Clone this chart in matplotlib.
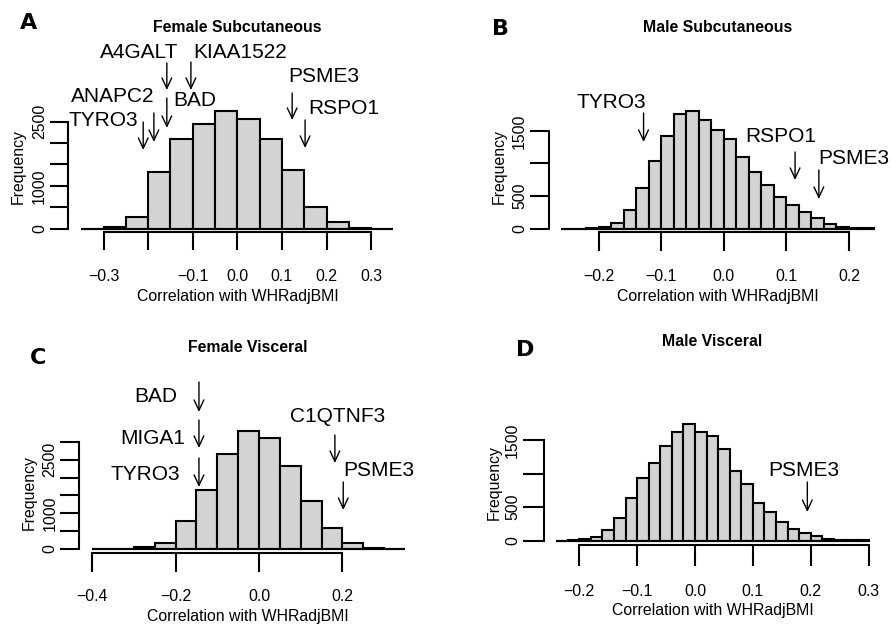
import numpy as np
import matplotlib
matplotlib.use("Agg")
import matplotlib.pyplot as plt
from matplotlib import transforms

plt.rcParams['font.family'] = ['Liberation Sans', 'DejaVu Sans']

W, H = 891, 626

# ---- data ----
# A: female subcutaneous (bin edges, counts)
fs_edges = [-0.35, -0.30, -0.25, -0.20, -0.15, -0.10, -0.05, 0.00,
            0.05, 0.10, 0.15, 0.20, 0.25, 0.30, 0.35]
fs_counts = [3, 30, 265, 1316, 2087, 2438, 2749, 2562, 2087, 1371, 514, 156, 25, 3]
fs_genes = ['TYRO3', 'ANAPC2', 'A4GALT', 'BAD', 'KIAA1522', 'PSME3', 'RSPO1']
fs_gene_r = [-0.211, -0.187, -0.158, -0.158, -0.104, 0.123, 0.152]

# B: male subcutaneous
ms_edges = [-0.26, -0.24, -0.22, -0.20, -0.18, -0.16, -0.14, -0.12, -0.10,
            -0.08, -0.06, -0.04, -0.02, 0.00, 0.02, 0.04, 0.06, 0.08, 0.10,
            0.12, 0.14, 0.16, 0.18, 0.20, 0.22, 0.24]
ms_counts = [1, 3, 8, 30, 92, 287, 619, 1039, 1428, 1755, 1812, 1668, 1515,
             1372, 1095, 865, 670, 481, 363, 261, 159, 72, 20, 10, 4]
ms_genes = ['TYRO3', 'RSPO1', 'PSME3']
ms_gene_r = [-0.128, 0.114, 0.152]

# C: female visceral
fv_edges = [-0.40, -0.35, -0.30, -0.25, -0.20, -0.15, -0.10, -0.05, 0.00,
            0.05, 0.10, 0.15, 0.20, 0.25, 0.30, 0.35]
fv_counts = [2, 5, 47, 168, 776, 1650, 2654, 3299, 3112, 2327, 1336, 570, 168, 28, 3]
fv_genes = ['BAD', 'MIGA1', 'TYRO3', 'C1QTNF3', 'PSME3']
fv_gene_r = [-0.144, -0.144, -0.144, 0.182, 0.202]

# D: male visceral
mv_edges = [-0.24, -0.22, -0.20, -0.18, -0.16, -0.14, -0.12, -0.10, -0.08,
            -0.06, -0.04, -0.02, 0.00, 0.02, 0.04, 0.06, 0.08, 0.10, 0.12,
            0.14, 0.16, 0.18, 0.20, 0.22, 0.24, 0.26, 0.28, 0.30]
mv_counts = [2, 10, 25, 55, 159, 333, 640, 929, 1157, 1410, 1624, 1738, 1624,
             1564, 1360, 1038, 839, 566, 432, 273, 174, 114, 65, 30, 15, 8, 4]
mv_genes = ['PSME3']
mv_gene_r = [0.194]

# ---- layout (pixels in the 891x626 canvas) ----
panels = [
    dict(edges=fs_edges, counts=fs_counts, genes=fs_genes, gene_r=fs_gene_r,
         title='Female Subcutaneous', letter='A', letter_xy=(29, 23),
         xticks=[-0.3, -0.2, -0.1, 0.0, 0.1, 0.2, 0.3],
         xlabels=['\u22120.3', '', '\u22120.1', '0.0', '0.1', '0.2', '0.3'],
         yticks=[0, 500, 1000, 1500, 2000, 2500], ylabeled=[0, 1000, 2500],
         x0=237.3, ppu=446, y0=228.7, ppc=21.4 / 500, yaxis=68, xaxis=232.3,
         right=400, top=40, tick=18, cx=237.5, title_y=28, ticklab_y=277.7,
         xlab_y=296.7, freq_y=167,
         arrows=[(122, 150, 138, 120, 'right'), (113, 142, 154, 97, 'right'),
                 (63, 90, 139, 52, 'center'), (98, 128, 173, 101, 'left'),
                 (62, 90, 193, 52, 'left'), (93, 120, 288, 77, 'left'),
                 (120, 148, 308, 109, 'left')]),
    dict(edges=ms_edges, counts=ms_counts, genes=ms_genes, gene_r=ms_gene_r,
         title='Male Subcutaneous', letter='B', letter_xy=(500, 29),
         xticks=[-0.2, -0.1, 0.0, 0.1, 0.2],
         xlabels=['\u22120.2', '\u22120.1', '0.0', '0.1', '0.2'],
         yticks=[0, 500, 1000, 1500], ylabeled=[0, 500, 1500],
         x0=723.7, ppu=626, y0=228.7, ppc=32.6 / 500, yaxis=549, xaxis=232.3,
         right=885, top=40, tick=19, cx=717.5, title_y=28, ticklab_y=278,
         xlab_y=297, freq_y=167,
         arrows=[(113, 142, 611.7, 103, 'center'), (152, 180, 780.7, 137, 'center'),
                 (170, 199, 818, 159, 'left')]),
    dict(edges=fv_edges, counts=fv_counts, genes=fv_genes, gene_r=fv_gene_r,
         title='Female Visceral', letter='C', letter_xy=(38, 357.5),
         xticks=[-0.4, -0.2, 0.0, 0.2],
         xlabels=['\u22120.4', '\u22120.2', '0.0', '0.2'],
         yticks=[0, 500, 1000, 1500, 2000, 2500, 3000], ylabeled=[0, 1000, 2500],
         x0=259, ppu=417, y0=548.7, ppc=17.8 / 500, yaxis=79.3, xaxis=553.3,
         right=420, top=360, tick=19, cx=248, title_y=348, ticklab_y=598,
         xlab_y=616, freq_y=492,
         arrows=[(382, 412, 177, 396, 'right'), (420, 448, 185, 438, 'right'),
                 (458, 487, 180, 475, 'right'), (435, 463, 338, 417, 'center'),
                 (482, 510, 343, 470, 'left')]),
    dict(edges=mv_edges, counts=mv_counts, genes=mv_genes, gene_r=mv_gene_r,
         title='Male Visceral', letter='D', letter_xy=(525, 350),
         xticks=[-0.2, -0.1, 0.0, 0.1, 0.2, 0.3],
         xlabels=['\u22120.2', '\u22120.1', '0.0', '0.1', '0.2', '0.3'],
         yticks=[0, 500, 1000, 1500], ylabeled=[0, 500, 1500],
         x0=695, ppu=579, y0=540.7, ppc=33.6 / 500, yaxis=544, xaxis=545.3,
         right=885, top=360, tick=21, cx=712.5, title_y=341, ticklab_y=592.7,
         xlab_y=610, freq_y=482.5,
         arrows=[(482, 512, 804, 470, 'center')]),
]

PT = 0.72  # points per pixel at dpi 100


def fy(py):
    return 1 - py / H


fig = plt.figure(figsize=(W / 100, H / 100), dpi=100)

for p in panels:
    left, bottom, right, top = p['yaxis'], p['xaxis'], p['right'], p['top']
    ax = fig.add_axes([left / W, fy(bottom), (right - left) / W, (bottom - top) / H])
    ax.set_facecolor('none')
    ax.set_xlim((left - p['x0']) / p['ppu'], (right - p['x0']) / p['ppu'])
    ax.set_ylim((p['y0'] - bottom) / p['ppc'], (p['y0'] - top) / p['ppc'])

    edges = np.array(p['edges'])
    ax.bar(edges[:-1], p['counts'], width=np.diff(edges), align='edge',
           color='#d3d3d3', edgecolor='black', lw=1.5, clip_on=False, zorder=2)
    ax.hlines(0, edges[0], edges[-1], color='black', lw=1.5, zorder=3)

    for s in ('top', 'right'):
        ax.spines[s].set_visible(False)
    ax.spines['left'].set_bounds(p['yticks'][0], p['yticks'][-1])
    ax.spines['bottom'].set_bounds(p['xticks'][0], p['xticks'][-1])
    for s in ('left', 'bottom'):
        ax.spines[s].set_linewidth(1.5)

    ax.set_xticks(p['xticks'], labels=p['xlabels'])
    ax.set_yticks(p['yticks'],
                  labels=[str(v) if v in p['ylabeled'] else '' for v in p['yticks']])
    tick_pt = p['tick'] * PT
    ax.tick_params(axis='x', length=tick_pt, width=1.5, labelsize=11.4,
                   pad=(p['ticklab_y'] - 9 - bottom - p['tick']) * PT)
    ax.tick_params(axis='y', length=tick_pt, width=1.5, labelsize=11.4,
                   pad=3 * PT, labelrotation=90)
    for lab in ax.get_yticklabels():
        lab.set_va('center')

    cx = p['cx']
    fig.text(cx / W, fy(p['title_y']), p['title'], ha='center', va='center',
             fontsize=11.4, fontweight='bold')
    fig.text(cx / W, fy(p['xlab_y']), 'Correlation with WHRadjBMI',
             ha='center', va='center', fontsize=11.4)
    fig.text((left - 50) / W, fy(p['freq_y']), 'Frequency', rotation=90,
             ha='center', va='center', fontsize=11.4)
    lx, ly = p['letter_xy']
    fig.text(lx / W, fy(ly), p['letter'], ha='center', va='center',
             fontsize=16, fontweight='bold', family='DejaVu Sans')

    trans = transforms.blended_transform_factory(ax.transData, fig.transFigure)
    for gene, r, (tail, tip, tx, ty, ha) in zip(p['genes'], p['gene_r'], p['arrows']):
        ax.annotate('', xy=(r, fy(tip)), xycoords=trans,
                    xytext=(r, fy(tail)), textcoords=trans,
                    arrowprops=dict(arrowstyle='->,head_length=0.75,head_width=0.35',
                                    lw=1.0, color='black', shrinkA=0, shrinkB=0))
        fig.text(tx / W, fy(ty), gene, ha=ha, va='center', fontsize=15)

fig.savefig('out.png', dpi=100)
